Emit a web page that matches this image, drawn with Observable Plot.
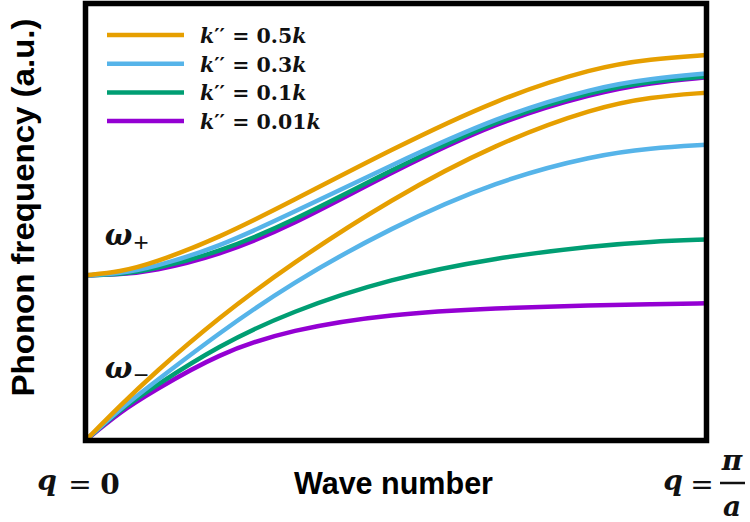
<!DOCTYPE html>
<html><head><meta charset="utf-8">
<script src="https://cdn.jsdelivr.net/npm/d3@7"></script>
<script src="https://cdn.jsdelivr.net/npm/@observablehq/plot@0.6"></script>
<style>body{margin:0;background:#fff} svg{display:block}</style>
</head><body><div id="chart"></div>
<script>
// Wave number, as a fraction of pi/a
const q = [0, 0.056, 0.108, 0.214, 0.33, 0.491, 0.663, 0.821, 0.91, 1];
// series (k'' / k)
const kRatio = ["0.5", "0.3", "0.1", "0.01"];
const colors = ["#E69F00", "#56B4E9", "#009E73", "#9400D3"];
// optical branch (omega+)
const upper05  = [37.8, 38.6, 40.5, 46.3, 54.6, 66.5, 78.2, 85.4, 87.3, 88.2];
const upper03  = [37.8, 38.2, 39.6, 44.2, 51.9, 62.9, 74.1, 80.8, 82.8, 84.0];
const upper01  = [37.8, 38.0, 39.1, 43.0, 49.9, 61.8, 73.5, 80.1, 82.2, 83.3];
const upper001 = [37.8, 38.0, 38.7, 42.3, 49.0, 61.3, 73.0, 79.6, 81.9, 83.1];
// acoustic branch (omega-)
const lower05  = [0, 8.0, 15.1, 28.1, 40.3, 55.2, 68.1, 76.2, 78.6, 79.6];
const lower03  = [0, 7.3, 13.0, 24.5, 35.9, 48.7, 59.5, 65.3, 66.9, 67.7];
const lower01  = [0, 7.1, 12.1, 21.7, 29.5, 37.1, 41.9, 44.6, 45.5, 46.0];
const lower001 = [0, 6.6, 11.2, 19.9, 25.4, 29.0, 30.3, 31.0, 31.2, 31.4];
// branch labels
const branchLabels = [{sub: "+", q: 0.032, f: 44.6}, {sub: "\u2212", q: 0.032, f: 14.2}];

const uppers = [upper05, upper03, upper01, upper001];
const lowers = [lower05, lower03, lower01, lower001];

const rows = [];
for (let i = kRatio.length - 1; i >= 0; i--) {
  for (const [b, arr] of [["upper", uppers[i]], ["lower", lowers[i]]]) {
    q.forEach((v, j) => rows.push({series: kRatio[i], key: kRatio[i] + b, q: v, f: arr[j]}));
  }
}

const plot = Plot.plot({
  width: 750, height: 522,
  marginLeft: 85, marginRight: 44, marginTop: 3, marginBottom: 82,
  x: {domain: [0, 1], axis: null},
  y: {domain: [0, 100], axis: null},
  color: {domain: kRatio, range: colors},
  marks: [
    Plot.line(rows, {x: "q", y: "f", z: "key", stroke: "series", strokeWidth: 4.5, curve: "basis", strokeLinecap: "butt"}),
    Plot.frame({stroke: "black", strokeWidth: 5.5})
  ]
});

const svg = d3.select(plot);
const xs = plot.scale("x"), ys = plot.scale("y");
const X = v => xs.apply(v), Y = v => ys.apply(v);
const serif = "'DejaVu Serif', serif";
const sans = "'Liberation Sans', Arial, sans-serif";

// legend
const lg = svg.append("g").attr("text-anchor", "start");
kRatio.forEach((k, i) => {
  const yy = 35 + i * 28.7;
  lg.append("line").attr("x1", X(0) + 22).attr("x2", X(0) + 99).attr("y1", yy).attr("y2", yy)
    .attr("stroke", colors[i]).attr("stroke-width", 4.5);
  const t = lg.append("text").attr("x", X(0) + 115).attr("y", yy + 8)
    .attr("font-family", serif).attr("font-weight", "bold").attr("font-size", 20.5).attr("fill", "#111");
  t.append("tspan").attr("font-style", "italic").text("k");
  t.append("tspan").text("\u2032\u2032 = " + k);
  t.append("tspan").attr("font-style", "italic").text("k");
});

// branch labels
branchLabels.forEach(d => {
  const t = svg.append("text").attr("x", X(d.q)).attr("y", Y(d.f)).attr("text-anchor", "start")
    .attr("font-family", serif).attr("font-weight", "bold").attr("font-size", 29).attr("fill", "#111");
  t.append("tspan").attr("font-style", "italic").text("\u03c9");
  t.append("tspan").attr("font-family", sans).attr("font-weight", "normal").attr("font-size", 26)
    .attr("dy", 6).attr("dx", 1).text(d.sub);
});

// y axis label
svg.append("text").attr("transform", `translate(${X(0) - 51},${(Y(0) + Y(100)) / 2 - 14}) rotate(-90)`)
  .attr("text-anchor", "middle").attr("font-family", sans).attr("font-weight", "bold")
  .attr("font-size", 31).attr("textLength", 378).attr("lengthAdjust", "spacingAndGlyphs")
  .attr("fill", "#000").text("Phonon frequency (a.u.)");

// x axis label
svg.append("text").attr("x", (X(0) + X(1)) / 2 - 2).attr("y", 494).attr("text-anchor", "middle")
  .attr("font-family", sans).attr("font-weight", "bold").attr("font-size", 32)
  .attr("textLength", 199).attr("lengthAdjust", "spacingAndGlyphs").attr("fill", "#000").text("Wave number");

// q = 0
const m = svg.append("g").attr("font-family", serif).attr("font-weight", "bold").attr("font-size", 28).attr("fill", "#111").attr("text-anchor", "middle");
m.append("text").attr("x", X(0) - 38).attr("y", 490).attr("font-style", "italic").text("q");
m.append("text").attr("x", X(0) - 5).attr("y", 494).attr("font-weight", "normal").text("=");
m.append("text").attr("x", X(0) + 25).attr("y", 494).text("0");
// q = pi / a
m.append("text").attr("x", X(1) - 33).attr("y", 490).attr("font-style", "italic").text("q");
m.append("text").attr("x", X(1) - 4).attr("y", 494).attr("font-weight", "normal").text("=");
m.append("text").attr("x", X(1) + 26).attr("y", 470).attr("font-style", "italic").text("\u03c0");
m.append("line").attr("x1", X(1) + 14).attr("x2", X(1) + 39).attr("y1", 483).attr("y2", 483).attr("stroke", "#111").attr("stroke-width", 2.5);
m.append("text").attr("x", X(1) + 26).attr("y", 516).attr("font-style", "italic").text("a");

document.getElementById("chart").append(plot);
</script>
</body></html>
